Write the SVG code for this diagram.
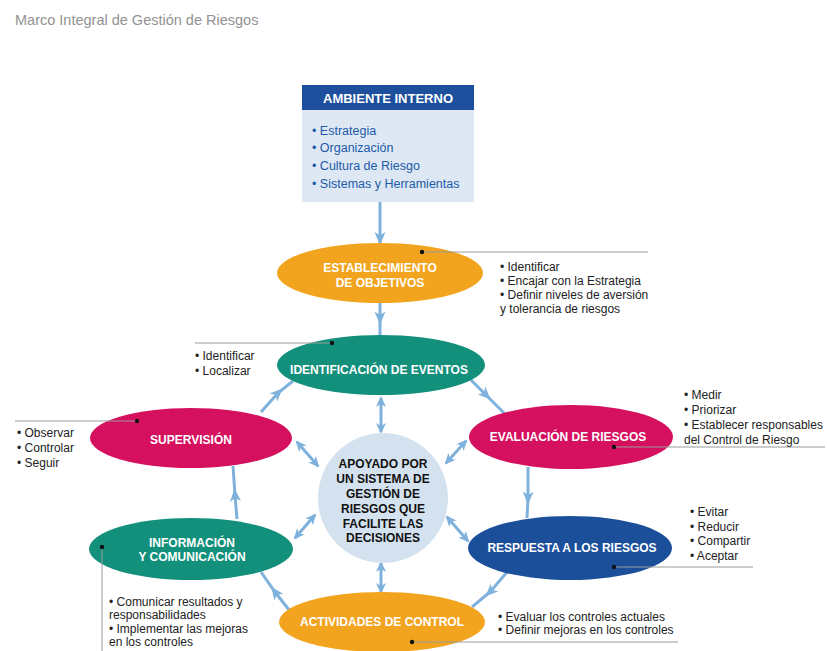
<svg xmlns="http://www.w3.org/2000/svg" width="827" height="651" viewBox="0 0 827 651">
<style>
text{font-family:"Liberation Sans",Arial,sans-serif}
.title{font-size:14.5px;fill:#929292}
.hdr{font-size:13px;font-weight:bold;fill:#fff}
.item{font-size:12.5px;fill:#1c5aa8}
.lbl{font-size:12px;font-weight:bold;fill:#fff;text-anchor:middle}
.ctr{font-size:12px;font-weight:bold;fill:#111;text-anchor:middle}
.side{font-size:12px;fill:#222}
.flow{fill:none;stroke:#7fb1dd;stroke-width:3}
.ptr{stroke:#9a9a9a;stroke-width:1;fill:none}
.dot{fill:#111}
.or{fill:#f2a41f}.gr{fill:#13907b}.mg{fill:#d5105f}.bl{fill:#1c4f9a}
</style>
<defs>
<marker id="ah" markerUnits="userSpaceOnUse" markerWidth="13" markerHeight="11" viewBox="0 0 13 11" refX="6.5" refY="5.5" orient="auto">
<path d="M0,0 L13,5.5 L0,11 L3.5,5.5 z" fill="#7fb1dd"/>
</marker>
<marker id="ae" markerUnits="userSpaceOnUse" markerWidth="13" markerHeight="11" viewBox="0 0 13 11" refX="11" refY="5.5" orient="auto">
<path d="M0,0 L13,5.5 L0,11 L3.5,5.5 z" fill="#7fb1dd"/>
</marker>
<marker id="ad" markerUnits="userSpaceOnUse" markerWidth="11" markerHeight="10" viewBox="0 0 11 10" refX="9" refY="5" orient="auto-start-reverse">
<path d="M0,0 L11,5 L0,10 L3,5 z" fill="#7fb1dd"/>
</marker>
</defs>
<rect width="827" height="651" fill="#fff"/>
<text class="title" x="15" y="25">Marco Integral de Gestión de Riesgos</text>

<g id="connectors">
<path class="flow" d="M380,202 L380,243" marker-end="url(#ae)"/>
<path class="flow" d="M380,300 L380,318 L380,336" marker-mid="url(#ah)"/>
<path class="flow" d="M470,379 L486,395 L505,414" marker-mid="url(#ah)"/>
<path class="flow" d="M528,467 L528,498 L527,518" marker-mid="url(#ah)"/>
<path class="flow" d="M508,571 L490,592 L472,607" marker-mid="url(#ah)"/>
<path class="flow" d="M293,615 L275,592 L261,572" marker-mid="url(#ah)"/>
<path class="flow" d="M237,519 L235,495 L233,466" marker-mid="url(#ah)"/>
<path class="flow" d="M261,412 L278,393 L293,381" marker-mid="url(#ah)"/>
<path class="flow" d="M381,398 L381,432" marker-start="url(#ad)" marker-end="url(#ad)"/>
<path class="flow" d="M381,563 L381,592" marker-start="url(#ad)" marker-end="url(#ad)"/>
<path class="flow" d="M446,463 L466,441" marker-start="url(#ad)" marker-end="url(#ad)"/>
<path class="flow" d="M447,517 L468,541" marker-start="url(#ad)" marker-end="url(#ad)"/>
<path class="flow" d="M297,442 L318,466" marker-start="url(#ad)" marker-end="url(#ad)"/>
<path class="flow" d="M295,538 L315,515" marker-start="url(#ad)" marker-end="url(#ad)"/>
</g>

<g id="ambiente-interno">
<rect x="302" y="85" width="172" height="117" fill="#dde8f4"/>
<rect x="302" y="85" width="172" height="25" fill="#1e4f9d"/>
<text class="hdr" x="388" y="102.5" text-anchor="middle">AMBIENTE INTERNO</text>
<text class="item" x="312" y="134.5">• Estrategia</text>
<text class="item" x="312" y="151.5">• Organización</text>
<text class="item" x="312" y="169.5">• Cultura de Riesgo</text>
<text class="item" x="312" y="187.5">• Sistemas y Herramientas</text>
</g>

<g id="establecimiento">
<ellipse class="or" cx="380" cy="273" rx="103" ry="30"/>
<text class="lbl" x="380" y="272">ESTABLECIMIENTO</text>
<text class="lbl" x="380" y="287">DE OBJETIVOS</text>
<path class="ptr" d="M422,252 H648"/><circle class="dot" cx="422" cy="252" r="2.2"/>
<text class="side" x="500" y="271">• Identificar</text>
<text class="side" x="500" y="285">• Encajar con la Estrategia</text>
<text class="side" x="500" y="299">• Definir niveles de aversión</text>
<text class="side" x="500" y="313">y tolerancia de riesgos</text>
</g>

<g id="identificacion">
<ellipse class="gr" cx="381" cy="365" rx="104" ry="30"/>
<text class="lbl" x="379" y="374">IDENTIFICACIÓN DE EVENTOS</text>
<path class="ptr" d="M332,343 H195"/><circle class="dot" cx="332" cy="343" r="2.2"/>
<text class="side" x="195" y="360">• Identificar</text>
<text class="side" x="195" y="375">• Localizar</text>
</g>

<g id="supervision">
<ellipse class="mg" cx="191" cy="438" rx="101" ry="30"/>
<text class="lbl" x="191" y="444">SUPERVISIÓN</text>
<path class="ptr" d="M137,421 H15"/><circle class="dot" cx="137" cy="421" r="2.2"/>
<text class="side" x="17" y="437">• Observar</text>
<text class="side" x="17" y="452">• Controlar</text>
<text class="side" x="17" y="467">• Seguir</text>
</g>

<g id="evaluacion">
<ellipse class="mg" cx="571" cy="437" rx="102" ry="32"/>
<text class="lbl" x="568" y="441">EVALUACIÓN DE RIESGOS</text>
<path class="ptr" d="M614,447 H825"/><circle class="dot" cx="614" cy="447" r="2.2"/>
<text class="side" x="684" y="399">• Medir</text>
<text class="side" x="684" y="414">• Priorizar</text>
<text class="side" x="684" y="429">• Establecer responsables</text>
<text class="side" x="684" y="444">del Control de Riesgo</text>
</g>

<g id="respuesta">
<ellipse class="bl" cx="570" cy="548" rx="102" ry="32"/>
<text class="lbl" x="572" y="552">RESPUESTA A LOS RIESGOS</text>
<path class="ptr" d="M614,567 H753"/><circle class="dot" cx="614" cy="567" r="2.2"/>
<text class="side" x="690" y="516">• Evitar</text>
<text class="side" x="690" y="531">• Reducir</text>
<text class="side" x="690" y="545">• Compartir</text>
<text class="side" x="690" y="560">• Aceptar</text>
</g>

<g id="actividades">
<ellipse class="or" cx="382" cy="622" rx="103" ry="30"/>
<text class="lbl" x="382" y="626">ACTIVIDADES DE CONTROL</text>
<path class="ptr" d="M412,642 H678"/><circle class="dot" cx="412" cy="642" r="2.2"/>
<text class="side" x="498" y="621">• Evaluar los controles actuales</text>
<text class="side" x="498" y="634">• Definir mejoras en los controles</text>
</g>

<g id="informacion">
<ellipse class="gr" cx="191" cy="549" rx="102" ry="31"/>
<text class="lbl" x="192" y="547">INFORMACIÓN</text>
<text class="lbl" x="192" y="561">Y COMUNICACIÓN</text>
<path class="ptr" d="M102,547 V651"/><circle class="dot" cx="102" cy="547" r="2.2"/>
<text class="side" x="109" y="606">• Comunicar resultados y</text>
<text class="side" x="109" y="619">responsabilidades</text>
<text class="side" x="109" y="633">• Implementar las mejoras</text>
<text class="side" x="109" y="646">en los controles</text>
</g>

<g id="sistema-gestion">
<circle cx="383" cy="498" r="65" fill="#d4e2ef"/>
<text class="ctr" x="383" y="467.5">APOYADO POR</text>
<text class="ctr" x="383" y="482.5">UN SISTEMA DE</text>
<text class="ctr" x="383" y="497.5">GESTIÓN DE</text>
<text class="ctr" x="383" y="512.5">RIESGOS QUE</text>
<text class="ctr" x="383" y="527.5">FACILITE LAS</text>
<text class="ctr" x="383" y="541.5">DECISIONES</text>
</g>
</svg>
